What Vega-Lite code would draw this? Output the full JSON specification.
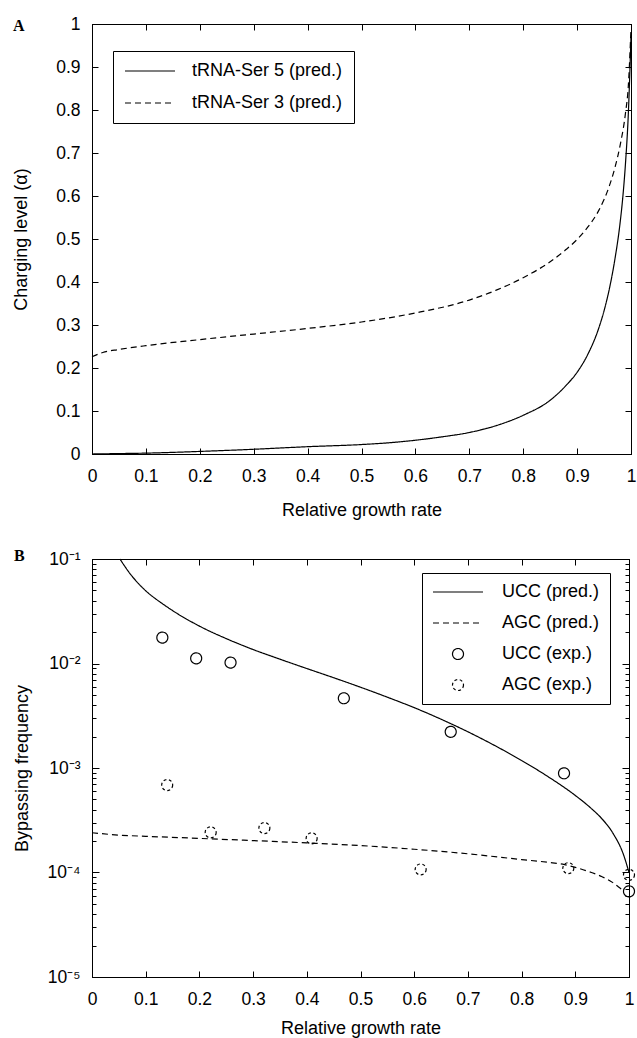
{
  "$schema": "https://vega.github.io/schema/vega-lite/v6.json",
  "padding": {"left": 12, "top": 14, "right": 0, "bottom": 0},
  "columns": 1,
  "spacing": 27,
  "resolve": {"scale": {"strokeDash": "independent", "shape": "independent"}, "legend": {"strokeDash": "independent", "shape": "independent"}},
  "datasets": {
    "a": [
      {"x": 0, "alpha": 0.0, "series": "tRNA-Ser 5 (pred.)"},
      {"x": 0.05, "alpha": 0.001, "series": "tRNA-Ser 5 (pred.)"},
      {"x": 0.1, "alpha": 0.002, "series": "tRNA-Ser 5 (pred.)"},
      {"x": 0.2, "alpha": 0.006, "series": "tRNA-Ser 5 (pred.)"},
      {"x": 0.3, "alpha": 0.011, "series": "tRNA-Ser 5 (pred.)"},
      {"x": 0.4, "alpha": 0.017, "series": "tRNA-Ser 5 (pred.)"},
      {"x": 0.5, "alpha": 0.022, "series": "tRNA-Ser 5 (pred.)"},
      {"x": 0.55, "alpha": 0.026, "series": "tRNA-Ser 5 (pred.)"},
      {"x": 0.6, "alpha": 0.032, "series": "tRNA-Ser 5 (pred.)"},
      {"x": 0.65, "alpha": 0.040, "series": "tRNA-Ser 5 (pred.)"},
      {"x": 0.7, "alpha": 0.050, "series": "tRNA-Ser 5 (pred.)"},
      {"x": 0.75, "alpha": 0.066, "series": "tRNA-Ser 5 (pred.)"},
      {"x": 0.8, "alpha": 0.090, "series": "tRNA-Ser 5 (pred.)"},
      {"x": 0.85, "alpha": 0.125, "series": "tRNA-Ser 5 (pred.)"},
      {"x": 0.88, "alpha": 0.16, "series": "tRNA-Ser 5 (pred.)"},
      {"x": 0.9, "alpha": 0.19, "series": "tRNA-Ser 5 (pred.)"},
      {"x": 0.92, "alpha": 0.232, "series": "tRNA-Ser 5 (pred.)"},
      {"x": 0.94, "alpha": 0.292, "series": "tRNA-Ser 5 (pred.)"},
      {"x": 0.95, "alpha": 0.333, "series": "tRNA-Ser 5 (pred.)"},
      {"x": 0.96, "alpha": 0.385, "series": "tRNA-Ser 5 (pred.)"},
      {"x": 0.97, "alpha": 0.452, "series": "tRNA-Ser 5 (pred.)"},
      {"x": 0.98, "alpha": 0.54, "series": "tRNA-Ser 5 (pred.)"},
      {"x": 0.985, "alpha": 0.6, "series": "tRNA-Ser 5 (pred.)"},
      {"x": 0.99, "alpha": 0.68, "series": "tRNA-Ser 5 (pred.)"},
      {"x": 0.995, "alpha": 0.79, "series": "tRNA-Ser 5 (pred.)"},
      {"x": 1.0, "alpha": 0.97, "series": "tRNA-Ser 5 (pred.)"},
      {"x": 0, "alpha": 0.226, "series": "tRNA-Ser 3 (pred.)"},
      {"x": 0.02, "alpha": 0.236, "series": "tRNA-Ser 3 (pred.)"},
      {"x": 0.05, "alpha": 0.243, "series": "tRNA-Ser 3 (pred.)"},
      {"x": 0.1, "alpha": 0.252, "series": "tRNA-Ser 3 (pred.)"},
      {"x": 0.2, "alpha": 0.266, "series": "tRNA-Ser 3 (pred.)"},
      {"x": 0.3, "alpha": 0.279, "series": "tRNA-Ser 3 (pred.)"},
      {"x": 0.4, "alpha": 0.292, "series": "tRNA-Ser 3 (pred.)"},
      {"x": 0.5, "alpha": 0.307, "series": "tRNA-Ser 3 (pred.)"},
      {"x": 0.6, "alpha": 0.328, "series": "tRNA-Ser 3 (pred.)"},
      {"x": 0.7, "alpha": 0.358, "series": "tRNA-Ser 3 (pred.)"},
      {"x": 0.75, "alpha": 0.381, "series": "tRNA-Ser 3 (pred.)"},
      {"x": 0.8, "alpha": 0.41, "series": "tRNA-Ser 3 (pred.)"},
      {"x": 0.85, "alpha": 0.447, "series": "tRNA-Ser 3 (pred.)"},
      {"x": 0.88, "alpha": 0.476, "series": "tRNA-Ser 3 (pred.)"},
      {"x": 0.9, "alpha": 0.499, "series": "tRNA-Ser 3 (pred.)"},
      {"x": 0.92, "alpha": 0.528, "series": "tRNA-Ser 3 (pred.)"},
      {"x": 0.94, "alpha": 0.566, "series": "tRNA-Ser 3 (pred.)"},
      {"x": 0.96, "alpha": 0.624, "series": "tRNA-Ser 3 (pred.)"},
      {"x": 0.97, "alpha": 0.665, "series": "tRNA-Ser 3 (pred.)"},
      {"x": 0.98, "alpha": 0.719, "series": "tRNA-Ser 3 (pred.)"},
      {"x": 0.99, "alpha": 0.795, "series": "tRNA-Ser 3 (pred.)"},
      {"x": 0.995, "alpha": 0.855, "series": "tRNA-Ser 3 (pred.)"},
      {"x": 1.0, "alpha": 0.99, "series": "tRNA-Ser 3 (pred.)"}
    ],
    "bpred": [
      {"x": 0.052, "f": 0.1, "series": "UCC (pred.)"},
      {"x": 0.06, "f": 0.0867, "series": "UCC (pred.)"},
      {"x": 0.07, "f": 0.0733, "series": "UCC (pred.)"},
      {"x": 0.08, "f": 0.0634, "series": "UCC (pred.)"},
      {"x": 0.1, "f": 0.0497, "series": "UCC (pred.)"},
      {"x": 0.13, "f": 0.0377, "series": "UCC (pred.)"},
      {"x": 0.15, "f": 0.0321, "series": "UCC (pred.)"},
      {"x": 0.2, "f": 0.0228, "series": "UCC (pred.)"},
      {"x": 0.25, "f": 0.0173, "series": "UCC (pred.)"},
      {"x": 0.3, "f": 0.0136, "series": "UCC (pred.)"},
      {"x": 0.35, "f": 0.0110, "series": "UCC (pred.)"},
      {"x": 0.4, "f": 0.00895, "series": "UCC (pred.)"},
      {"x": 0.45, "f": 0.00731, "series": "UCC (pred.)"},
      {"x": 0.5, "f": 0.00593, "series": "UCC (pred.)"},
      {"x": 0.55, "f": 0.00476, "series": "UCC (pred.)"},
      {"x": 0.6, "f": 0.00378, "series": "UCC (pred.)"},
      {"x": 0.65, "f": 0.00293, "series": "UCC (pred.)"},
      {"x": 0.7, "f": 0.00222, "series": "UCC (pred.)"},
      {"x": 0.75, "f": 0.00164, "series": "UCC (pred.)"},
      {"x": 0.8, "f": 0.00118, "series": "UCC (pred.)"},
      {"x": 0.85, "f": 0.000822, "series": "UCC (pred.)"},
      {"x": 0.9, "f": 0.000546, "series": "UCC (pred.)"},
      {"x": 0.93, "f": 0.000409, "series": "UCC (pred.)"},
      {"x": 0.95, "f": 0.000325, "series": "UCC (pred.)"},
      {"x": 0.97, "f": 0.000238, "series": "UCC (pred.)"},
      {"x": 0.99, "f": 0.000147, "series": "UCC (pred.)"},
      {"x": 1.0, "f": 0.0001, "series": "UCC (pred.)"},
      {"x": 0.0, "f": 0.00024, "series": "AGC (pred.)"},
      {"x": 0.05, "f": 0.000228, "series": "AGC (pred.)"},
      {"x": 0.1, "f": 0.000222, "series": "AGC (pred.)"},
      {"x": 0.2, "f": 0.000212, "series": "AGC (pred.)"},
      {"x": 0.3, "f": 0.000202, "series": "AGC (pred.)"},
      {"x": 0.4, "f": 0.000192, "series": "AGC (pred.)"},
      {"x": 0.5, "f": 0.000181, "series": "AGC (pred.)"},
      {"x": 0.6, "f": 0.000167, "series": "AGC (pred.)"},
      {"x": 0.7, "f": 0.000151, "series": "AGC (pred.)"},
      {"x": 0.8, "f": 0.000133, "series": "AGC (pred.)"},
      {"x": 0.85, "f": 0.000125, "series": "AGC (pred.)"},
      {"x": 0.88, "f": 0.000119, "series": "AGC (pred.)"},
      {"x": 0.9, "f": 0.000112, "series": "AGC (pred.)"},
      {"x": 0.93, "f": 0.0001, "series": "AGC (pred.)"},
      {"x": 0.95, "f": 0.000091, "series": "AGC (pred.)"},
      {"x": 0.97, "f": 0.00008, "series": "AGC (pred.)"},
      {"x": 0.98, "f": 0.000073, "series": "AGC (pred.)"},
      {"x": 0.99, "f": 0.000067, "series": "AGC (pred.)"}
    ],
    "bexp": [
      {"x": 0.131, "f": 0.0177, "series": "UCC (exp.)"},
      {"x": 0.194, "f": 0.0112, "series": "UCC (exp.)"},
      {"x": 0.258, "f": 0.0102, "series": "UCC (exp.)"},
      {"x": 0.469, "f": 0.00465, "series": "UCC (exp.)"},
      {"x": 0.668, "f": 0.00222, "series": "UCC (exp.)"},
      {"x": 0.879, "f": 0.00089, "series": "UCC (exp.)"},
      {"x": 1.0, "f": 0.000066, "series": "UCC (exp.)"},
      {"x": 0.14, "f": 0.000687, "series": "AGC (exp.)"},
      {"x": 0.221, "f": 0.000242, "series": "AGC (exp.)"},
      {"x": 0.321, "f": 0.000266, "series": "AGC (exp.)"},
      {"x": 0.409, "f": 0.000212, "series": "AGC (exp.)"},
      {"x": 0.612, "f": 0.000107, "series": "AGC (exp.)"},
      {"x": 0.887, "f": 0.00011, "series": "AGC (exp.)"},
      {"x": 1.0, "f": 0.000095, "series": "AGC (exp.)"}
    ]
  },
  "concat": [
    {
      "width": 539,
      "height": 430,
      "title": {"text": "A", "anchor": "start", "frame": "group", "font": "Liberation Serif", "fontWeight": "bold", "fontSize": 16, "baseline": "top", "dx": -79, "dy": 19, "offset": 0},
      "data": {"name": "a"},
      "layer": [
        {
          "transform": [{"filter": "datum.series === 'tRNA-Ser 5 (pred.)'"}],
          "mark": {"type": "line", "color": "black", "strokeWidth": 1.2, "interpolate": "monotone"},
          "encoding": {
            "x": {"field": "x", "type": "quantitative", "scale": {"domain": [0, 1], "nice": false},
              "axis": {"orient": "bottom", "values": [0, 0.1, 0.2, 0.3, 0.4, 0.5, 0.6, 0.7, 0.8, 0.9, 1], "format": ".1~f", "tickSize": -6, "labelPadding": 19, "title": "Relative growth rate", "titlePadding": 17}},
            "y": {"field": "alpha", "type": "quantitative", "scale": {"domain": [0, 1], "nice": false},
              "axis": {"orient": "left", "values": [0, 0.1, 0.2, 0.3, 0.4, 0.5, 0.6, 0.7, 0.8, 0.9, 1], "format": ".1~f", "tickSize": -6, "labelPadding": 18, "title": "Charging level (α)", "titlePadding": 25}},
            "strokeDash": {"field": "series", "type": "nominal",
              "scale": {"domain": ["tRNA-Ser 5 (pred.)", "tRNA-Ser 3 (pred.)"], "range": [[1, 0], [6, 4]]},
              "legend": {"orient": "none", "legendX": 21, "legendY": 27, "title": null, "symbolType": "stroke", "symbolSize": 2500, "clipHeight": 18, "rowPadding": 14, "padding": 11, "labelOffset": 16}}
          }
        },
        {
          "transform": [{"filter": "datum.series === 'tRNA-Ser 3 (pred.)'"}],
          "mark": {"type": "line", "color": "black", "strokeWidth": 1.2, "interpolate": "monotone"},
          "encoding": {
            "x": {"field": "x", "type": "quantitative",
              "axis": {"orient": "top", "values": [0, 0.1, 0.2, 0.3, 0.4, 0.5, 0.6, 0.7, 0.8, 0.9, 1], "labels": false, "tickSize": -6, "title": null}},
            "y": {"field": "alpha", "type": "quantitative",
              "axis": {"orient": "right", "values": [0, 0.1, 0.2, 0.3, 0.4, 0.5, 0.6, 0.7, 0.8, 0.9, 1], "labels": false, "tickSize": -6, "title": null}},
            "strokeDash": {"field": "series", "type": "nominal"}
          }
        }
      ],
      "resolve": {"axis": {"x": "independent", "y": "independent"}}
    },
    {
      "width": 537,
      "height": 418,
      "title": {"text": "B", "anchor": "start", "frame": "group", "font": "Liberation Serif", "fontWeight": "bold", "fontSize": 16, "baseline": "top", "dx": -78, "dy": 14, "offset": 0},
      "layer": [
        {
          "data": {"name": "bpred"},
          "mark": {"type": "line", "color": "black", "strokeWidth": 1.2, "interpolate": "monotone"},
          "encoding": {
            "x": {"field": "x", "type": "quantitative", "scale": {"domain": [0, 1], "nice": false},
              "axis": {"orient": "bottom", "values": [0, 0.1, 0.2, 0.3, 0.4, 0.5, 0.6, 0.7, 0.8, 0.9, 1], "format": ".1~f", "tickSize": -6, "labelPadding": 19, "title": "Relative growth rate", "titlePadding": 12}},
            "y": {"field": "f", "type": "quantitative", "scale": {"type": "log", "domain": [0.00001, 0.1], "nice": false},
              "axis": {"orient": "left",
                "values": [0.00001, 0.00002, 0.00003, 0.00004, 0.00005, 0.00006, 0.00007, 0.00008, 0.00009, 0.0001, 0.0002, 0.0003, 0.0004, 0.0005, 0.0006, 0.0007, 0.0008, 0.0009, 0.001, 0.002, 0.003, 0.004, 0.005, 0.006, 0.007, 0.008, 0.009, 0.01, 0.02, 0.03, 0.04, 0.05, 0.06, 0.07, 0.08, 0.09, 0.1],
                "labelExpr": "abs(log(datum.value)/LN10 - round(log(datum.value)/LN10)) > 0.001 ? '' : (round(log(datum.value)/LN10) == -1 ? '10⁻¹' : round(log(datum.value)/LN10) == -2 ? '10⁻²' : round(log(datum.value)/LN10) == -3 ? '10⁻³' : round(log(datum.value)/LN10) == -4 ? '10⁻⁴' : '10⁻⁵')",
                "tickSize": {"condition": {"test": "abs(log(datum.value)/LN10 - round(log(datum.value)/LN10)) < 0.001", "value": -7}, "value": -4},
                "labelPadding": 19, "title": "Bypassing frequency", "titlePadding": 16}},
            "strokeDash": {"field": "series", "type": "nominal",
              "scale": {"domain": ["UCC (pred.)", "AGC (pred.)", "UCC (exp.)", "AGC (exp.)"], "range": [[1, 0], [6, 4], [1, 0], [3, 2.5]]},
              "legend": {"orient": "none", "legendX": 330, "legendY": 14, "title": null, "symbolSize": 2500, "clipHeight": 18, "rowPadding": 13, "padding": 10, "labelOffset": 18}}
          }
        },
        {
          "data": {"name": "bexp"},
          "mark": {"type": "point", "filled": false, "color": "black", "strokeWidth": 1.2, "size": 2500, "opacity": 1},
          "encoding": {
            "x": {"field": "x", "type": "quantitative",
              "axis": {"orient": "top", "values": [0, 0.1, 0.2, 0.3, 0.4, 0.5, 0.6, 0.7, 0.8, 0.9, 1], "labels": false, "tickSize": -6, "title": null}},
            "y": {"field": "f", "type": "quantitative",
              "axis": {"orient": "right",
                "values": [0.00001, 0.00002, 0.00003, 0.00004, 0.00005, 0.00006, 0.00007, 0.00008, 0.00009, 0.0001, 0.0002, 0.0003, 0.0004, 0.0005, 0.0006, 0.0007, 0.0008, 0.0009, 0.001, 0.002, 0.003, 0.004, 0.005, 0.006, 0.007, 0.008, 0.009, 0.01, 0.02, 0.03, 0.04, 0.05, 0.06, 0.07, 0.08, 0.09, 0.1],
                "labels": false,
                "tickSize": {"condition": {"test": "abs(log(datum.value)/LN10 - round(log(datum.value)/LN10)) < 0.001", "value": -7}, "value": -4},
                "title": null}},
            "strokeDash": {"field": "series", "type": "nominal"},
            "shape": {"field": "series", "type": "nominal",
              "scale": {"domain": ["UCC (pred.)", "AGC (pred.)", "UCC (exp.)", "AGC (exp.)"],
                "range": ["M-1,0L1,0", "M-1,0L1,0", "M0.22,0C0.22,0.1215,0.1215,0.22,0,0.22C-0.1215,0.22,-0.22,0.1215,-0.22,0C-0.22,-0.1215,-0.1215,-0.22,0,-0.22C0.1215,-0.22,0.22,-0.1215,0.22,0Z", "M0.22,0C0.22,0.1215,0.1215,0.22,0,0.22C-0.1215,0.22,-0.22,0.1215,-0.22,0C-0.22,-0.1215,-0.1215,-0.22,0,-0.22C0.1215,-0.22,0.22,-0.1215,0.22,0Z"]},
              "legend": {"orient": "none", "legendX": 330, "legendY": 14, "title": null, "symbolSize": 2500, "clipHeight": 18, "rowPadding": 13, "padding": 10, "labelOffset": 18}}
          }
        }
      ],
      "resolve": {"axis": {"x": "independent", "y": "independent"}}
    }
  ],
  "config": {
    "font": "Liberation Sans",
    "view": {"stroke": "black", "strokeWidth": 1},
    "axis": {"labelFont": "Liberation Sans", "labelFontSize": 17.5, "labelColor": "black", "titleFont": "Liberation Sans", "titleFontSize": 18, "titleFontWeight": "normal", "titleColor": "black", "domainColor": "black", "domainWidth": 1, "tickColor": "black", "tickWidth": 1, "grid": false, "labelFlush": false, "labelOverlap": false},
    "legend": {"labelFont": "Liberation Sans", "labelFontSize": 18, "labelColor": "black", "strokeColor": "black", "strokeWidth": 1, "symbolStrokeColor": "black", "symbolStrokeWidth": 1.2, "symbolFillColor": "transparent", "labelLimit": 300}
  }
}
